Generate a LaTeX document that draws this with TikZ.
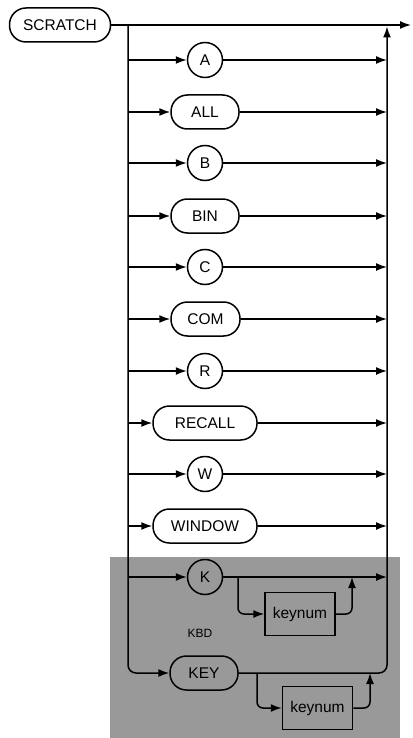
\documentclass[tikz,border=0pt]{standalone}
\usepackage{fontspec}
\setmainfont{Liberation Sans}
\usetikzlibrary{arrows.meta}
\begin{document}
\begin{tikzpicture}[x=1pt,y=-1pt, line width=1.5pt,
  arr/.style={-{Latex[length=11pt,width=8pt]}},
  lbl/.style={font=\fontsize{15.5}{15.5}\selectfont, text=black},
  pill/.style={lbl, draw, rounded corners=16.5pt, minimum height=34pt, inner sep=0pt},
  circ/.style={lbl, draw, circle, minimum size=35pt, inner sep=0pt},
  kbox/.style={lbl, draw, rectangle, minimum width=70pt, minimum height=43pt, inner sep=0pt},
  shade/.style={fill=black!40}]
\useasboundingbox (0,0) rectangle (412,738);
\fill[shade] (110,557) rectangle (400,738);

\node[pill, minimum width=101pt] (scr) at (60,25) {SCRATCH};
\coordinate (out) at (411,25);
\coordinate (ltop) at (128,25);
\coordinate (rtop) at (387,26.5);
\draw[arr] (scr) -- (out);

\node[circ] (a) at (205,60) {A};
\node[pill, minimum width=68pt] (all) at (205,112) {ALL};
\node[circ] (b) at (205,163) {B};
\node[pill, minimum width=68pt] (bin) at (205,216) {BIN};
\node[circ] (c) at (205,267) {C};
\node[pill, minimum width=69pt] (com) at (205.5,319) {COM};
\node[circ] (r) at (205,371) {R};
\node[pill, minimum width=104pt] (recall) at (205,423) {RECALL};
\node[circ] (w) at (205,474) {W};
\node[pill, minimum width=104pt] (window) at (205,526) {WINDOW};
\node[circ] (k) at (205,577) {K};
\node[pill, minimum width=68pt] (key) at (204,673) {KEY};
\node[kbox] (kn1) at (300,614) {keynum};
\node[kbox] (kn2) at (317.5,708) {keynum};
\node[font=\fontsize{12}{12}\selectfont] (kbd) at (200,633) {KBD};

\foreach \nm/\y in {a/60,all/112,b/163,bin/216,c/267,com/319,r/371,recall/423,w/474,window/526,k/577} {
  \coordinate (L\nm) at (128,\y);
  \coordinate (R\nm) at (387,\y);
  \draw[arr] (L\nm) -- (\nm);
  \draw[arr] (\nm) -- (R\nm);
}

\coordinate (Lkey) at (128,673);
\coordinate (Rkey) at (387,673);
\draw[arr, rounded corners=8pt] (ltop) -- (Lkey) -- (key);
\draw[arr, rounded corners=8pt] (key) -- (Rkey) -- (rtop);

\coordinate (kb) at (238,577);
\coordinate (kj) at (352,577);
\draw[arr, rounded corners=6pt] (kb) |- (kn1);
\draw[arr, rounded corners=6pt] (kn1) -| (kj);

\coordinate (kyb) at (257,673);
\coordinate (kyj) at (370,673);
\draw[arr, rounded corners=6pt] (kyb) |- (kn2);
\draw[arr, rounded corners=6pt] (kn2) -| (kyj);
\end{tikzpicture}
\end{document}
